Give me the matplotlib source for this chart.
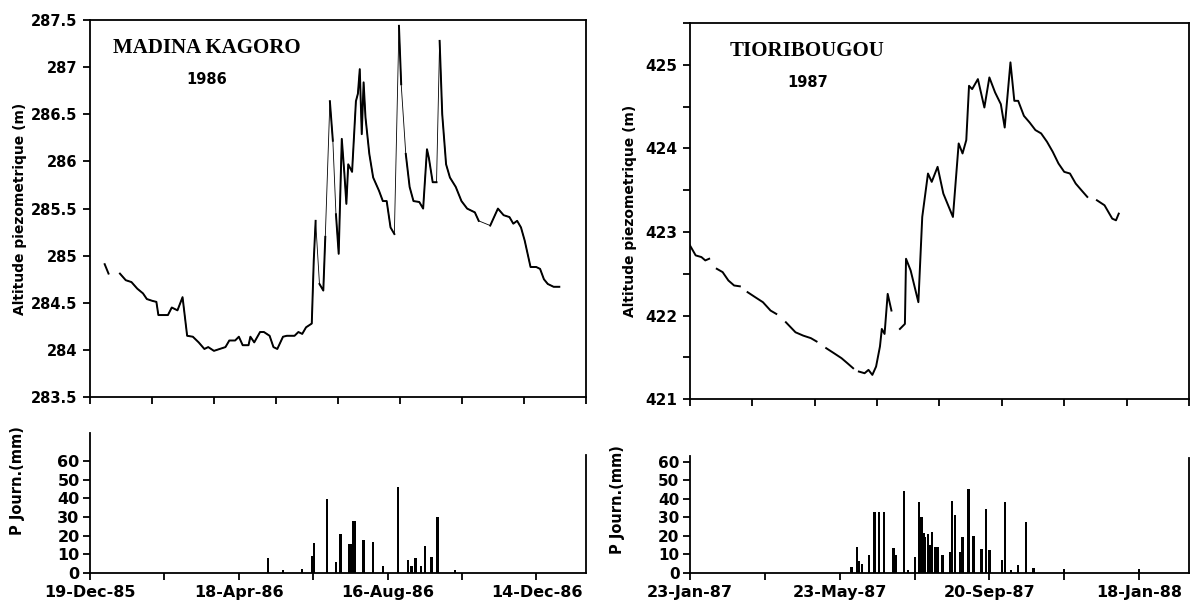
import numpy as np
import pandas as pd
import matplotlib
matplotlib.use("Agg")
import matplotlib.pyplot as plt
import matplotlib.dates as mdates
from matplotlib.ticker import MultipleLocator, FixedLocator

plt.rcParams['font.family'] = ['DejaVu Sans']
plt.rcParams['font.weight'] = 'bold'
plt.rcParams['font.size'] = 10

# Madina Kagoro 1986 : jours depuis le 19-Dec-85, niveau piezometrique (m)
mk_start = "1985-12-19"
mk_days = [11.8, 14.9, np.nan, 24.1, 28.8, 33.4, 38.1, 42.7, 45.8, 50.4, 53.5, 55.1, 62.8, 65.9,
           70.5, 74.6, 78.3, 82.9, 87.6, 92.2, 95.3, 99.9, 109.2, 112.3, 117.0, 120.0, 123.1,
           127.8, 129.3, 132.4, 137.1, 140.2, 144.8, 147.9, 151.0, 155.6, 158.7, 164.9, 168.0,
           171.1, 174.2, 178.8, 180.4, 181.9, np.nan, 185.0, 188.1, 189.7, np.nan, 193.4, 195.8,
           np.nan, 198.3, 200.5, 203.0, 205.1, 206.7, 208.2, 211.3, 214.4, 216.0, 217.5, 219.1,
           220.6, 222.1, 225.2, 228.3, 233.0, 236.1, 239.2, 242.3, 245.4, np.nan, 249.1, 250.9,
           np.nan, 254.6, 257.7, 260.8, 265.5, 268.6, 271.7, 273.2, 276.3, 279.4, np.nan, 281.9,
           284.0, 287.1, 290.2, 294.9, 299.5, 304.1, 310.3, 313.4, np.nan, 322.7, 328.9, 333.5,
           338.2, 341.3, 344.4, 347.5, 350.5, 355.2, 359.8, 362.9, 366.0, 369.1, 373.8, 378.4]
mk_level = [284.91, 284.81, np.nan, 284.81, 284.74, 284.72, 284.65, 284.60, 284.54, 284.52, 284.51,
            284.37, 284.37, 284.45, 284.42, 284.56, 284.15, 284.14, 284.08, 284.01, 284.03, 283.99,
            284.03, 284.10, 284.10, 284.14, 284.05, 284.05, 284.14, 284.08, 284.19, 284.19, 284.15,
            284.03, 284.01, 284.14, 284.15, 284.15, 284.19, 284.17, 284.24, 284.28, 284.95, 285.37,
            np.nan, 284.70, 284.63, 285.20, np.nan, 286.64, 286.22, np.nan, 285.44, 285.02, 286.24,
            285.87, 285.55, 285.97, 285.89, 286.64, 286.72, 286.98, 286.29, 286.84, 286.47, 286.08,
            285.83, 285.69, 285.58, 285.58, 285.30, 285.23, np.nan, 287.44, 286.82, np.nan, 286.08,
            285.73, 285.58, 285.57, 285.50, 286.13, 286.04, 285.78, 285.78, np.nan, 287.28, 286.50,
            285.97, 285.83, 285.73, 285.58, 285.50, 285.46, 285.37, np.nan, 285.32, 285.50, 285.43,
            285.41, 285.34, 285.37, 285.30, 285.16, 284.88, 284.88, 284.86, 284.75, 284.70, 284.67,
            284.67]
mk_rain_days = [143.3, 155.6, 171.0, 178.8, 180.4, 191.2, 198.3, 202.0, 208.8, 210.7, 212.0, 213.7,
                220.6, 228.3, 236.1, 248.4, 256.2, 259.3, 262.4, 267.0, 270.1, 275.4, 280.0, 294.2]
mk_rain = [8, 1.8, 2, 9, 16, 39.4, 6, 21, 15.6, 15.6, 28, 28, 17.8, 16.5, 4, 46, 6.7, 3.5, 8, 3.5,
           14.5, 8.5, 30, 1.5]

# Tioribougou 1987 : jours depuis le 23-Jan-87
tb_start = "1987-01-23"
tb_days = [0.0, 4.6, 9.2, 12.3, 15.4, np.nan, 21.5, 26.2, 30.8, 35.4, 40.0, np.nan, 46.2, 52.3,
           58.5, 64.6, 69.2, np.nan, 76.9, 84.6, 90.8, 96.9, 101.5, np.nan, 109.2, 115.4, 121.5,
           126.2, 130.8, np.nan, 135.4, 140.0, 143.1, 146.2, 149.2, 152.3, 153.8, 156.0, 158.5,
           161.5, np.nan, 168.3, 172.3, 173.2, 176.9, 183.1, 186.2, 190.8, 193.8, 198.5, 203.1,
           210.8, 215.4, 218.5, 221.5, 223.7, 226.2, 230.8, 236.0, 240.0, 244.6, 249.2, 252.3,
           256.9, 260.0, 263.1, 267.7, 272.3, 276.9, 281.5, 286.2, 290.8, 295.4, 300.0, 304.6,
           309.2, 313.8, 318.5, np.nan, 326.2, 332.3, 338.5, 341.5, 343.7]
tb_level = [422.84, 422.72, 422.70, 422.66, 422.68, np.nan, 422.56, 422.52, 422.42, 422.36, 422.35,
            np.nan, 422.28, 422.22, 422.16, 422.06, 422.02, np.nan, 421.92, 421.80, 421.76, 421.73,
            421.69, np.nan, 421.61, 421.55, 421.49, 421.43, 421.37, np.nan, 421.33, 421.31, 421.35,
            421.29, 421.39, 421.63, 421.84, 421.78, 422.26, 422.06, np.nan, 421.84, 421.90, 422.68,
            422.54, 422.16, 423.18, 423.70, 423.60, 423.78, 423.46, 423.18, 424.06, 423.94, 424.10,
            424.75, 424.71, 424.83, 424.49, 424.85, 424.67, 424.53, 424.25, 425.03, 424.57, 424.57,
            424.39, 424.31, 424.22, 424.18, 424.08, 423.96, 423.82, 423.72, 423.70, 423.58, 423.50,
            423.42, np.nan, 423.38, 423.32, 423.16, 423.14, 423.22]
tb_rain_days = [129.5, 133.8, 135.7, 137.8, 143.4, 148.0, 151.7, 155.7, 163.1, 164.6, 171.7, 174.8,
                180.3, 183.4, 185.5, 187.1, 188.6, 190.8, 192.3, 194.2, 196.3, 198.5, 202.5, 208.6,
                210.2, 212.3, 216.3, 218.5, 223.1, 227.1, 233.8, 237.2, 240.0, 250.2, 252.6, 257.2,
                263.1, 269.2, 275.4, 300.0, 360.0]
tb_rain = [3.2, 14.3, 6.3, 5, 9.5, 32.8, 32.8, 33.2, 13.4, 9.9, 44.4, 1.8, 8.6, 38.5, 30.5, 21.5,
           19.7, 21.1, 15.2, 22.4, 14.3, 14.3, 9.9, 11.6, 39, 31.4, 11.6, 19.4, 45.3, 20.1, 12.9,
           34.6, 12.5, 7.2, 38.5, 1.4, 4.1, 27.8, 2.7, 2.2, 2.2]

ylabel_top = "Altitude piezometrique (m)"
ylabel_bot = "P Journ.(mm)"


def to_dates(start, days):
    d = np.array(days, dtype=float)
    return mdates.date2num(pd.Timestamp(start)) + d


def panel(ax_top, ax_bot, start, days, level, rdays, rain, name, year, ylim, ymaj, ymin,
          rain_top, rspine, lab_top_x, lab_bot_x, lab_bot_y, fs_top, fs_bot, thin_links):
    t0 = mdates.date2num(pd.Timestamp(start))
    xlim = (t0, t0 + 400)

    x = to_dates(start, days)
    y = np.array(level, dtype=float)
    if thin_links:
        ok = ~np.isnan(y)
        # les lacunes sont reliees par un trait fin (releves manquants)
        ax_top.plot(x[ok][2:], y[ok][2:], color='black', lw=0.6)
    ax_top.plot(x, y, color='black', lw=1.4)
    ax_top.set_xlim(xlim)
    ax_top.set_ylim(ylim)
    ax_top.xaxis.set_major_locator(FixedLocator(t0 + np.arange(0, 401, 50)))
    ax_top.set_xticklabels([])
    ax_top.yaxis.set_major_locator(MultipleLocator(ymaj))
    if ymin:
        ax_top.yaxis.set_minor_locator(MultipleLocator(ymin))
    ax_top.yaxis.set_major_formatter(plt.FuncFormatter(lambda v, p: f"{v:g}"))
    ax_top.tick_params(which='both', direction='out', width=1.3, length=5)
    ax_top.tick_params(axis='y', labelsize=fs_top, pad=4)
    ax_top.set_ylabel(ylabel_top, fontsize=10, fontweight='bold')
    ax_top.yaxis.set_label_coords(lab_top_x, 0.5)
    for s in ax_top.spines.values():
        s.set_linewidth(1.3)
    ax_top.text(0.235, 0.925, name, transform=ax_top.transAxes, ha='center', va='center',
                family='Liberation Serif', fontsize=15, fontweight='bold')
    ax_top.text(0.235, 0.843, year, transform=ax_top.transAxes, ha='center', va='center',
                fontsize=10.5, fontweight='bold')

    ax_bot.bar(to_dates(start, rdays), rain, width=2.0, color='black')
    ax_bot.set_xlim(xlim)
    ax_bot.set_ylim(0, rain_top)
    ax_bot.xaxis.set_major_locator(FixedLocator(t0 + np.arange(0, 361, 120)))
    ax_bot.xaxis.set_minor_locator(FixedLocator(t0 + np.arange(60, 401, 120)))
    ax_bot.xaxis.set_major_formatter(mdates.DateFormatter('%d-%b-%y'))
    ax_bot.yaxis.set_major_locator(FixedLocator(np.arange(0, 61, 10)))
    ax_bot.tick_params(which='both', direction='out', width=1.3, length=5)
    ax_bot.tick_params(axis='x', labelsize=11.5)
    ax_bot.tick_params(axis='y', labelsize=fs_bot, pad=2.5)
    ax_bot.spines['top'].set_visible(False)
    ax_bot.spines['right'].set_bounds(0, rspine)
    for s in ax_bot.spines.values():
        s.set_linewidth(1.3)
    ax_bot.set_ylabel(ylabel_bot, fontsize=10.5, fontweight='bold')
    ax_bot.yaxis.set_label_coords(lab_bot_x, lab_bot_y)


fig = plt.figure(figsize=(11.91, 6.02), dpi=100)
ax1 = fig.add_axes([0.0756, 0.3405, 0.4165, 0.626])
ax2 = fig.add_axes([0.0756, 0.0482, 0.4165, 0.2326])
ax3 = fig.add_axes([0.5793, 0.337, 0.419, 0.6246])
ax4 = fig.add_axes([0.5793, 0.0482, 0.419, 0.1937])

panel(ax1, ax2, mk_start, mk_days, mk_level, mk_rain_days, mk_rain, "MADINA KAGORO", "1986",
      (283.5, 287.5), 0.5, None, 75, 63, -0.127, -0.131, 0.66, 10.5, 11.5, True)
panel(ax3, ax4, tb_start, tb_days, tb_level, tb_rain_days, tb_rain, "TIORIBOUGOU", "1987",
      (421, 425.5), 1, 0.5, 63, 62, -0.106, -0.130, 0.63, 11, 11, False)

fig.savefig("out.png", dpi=100)
